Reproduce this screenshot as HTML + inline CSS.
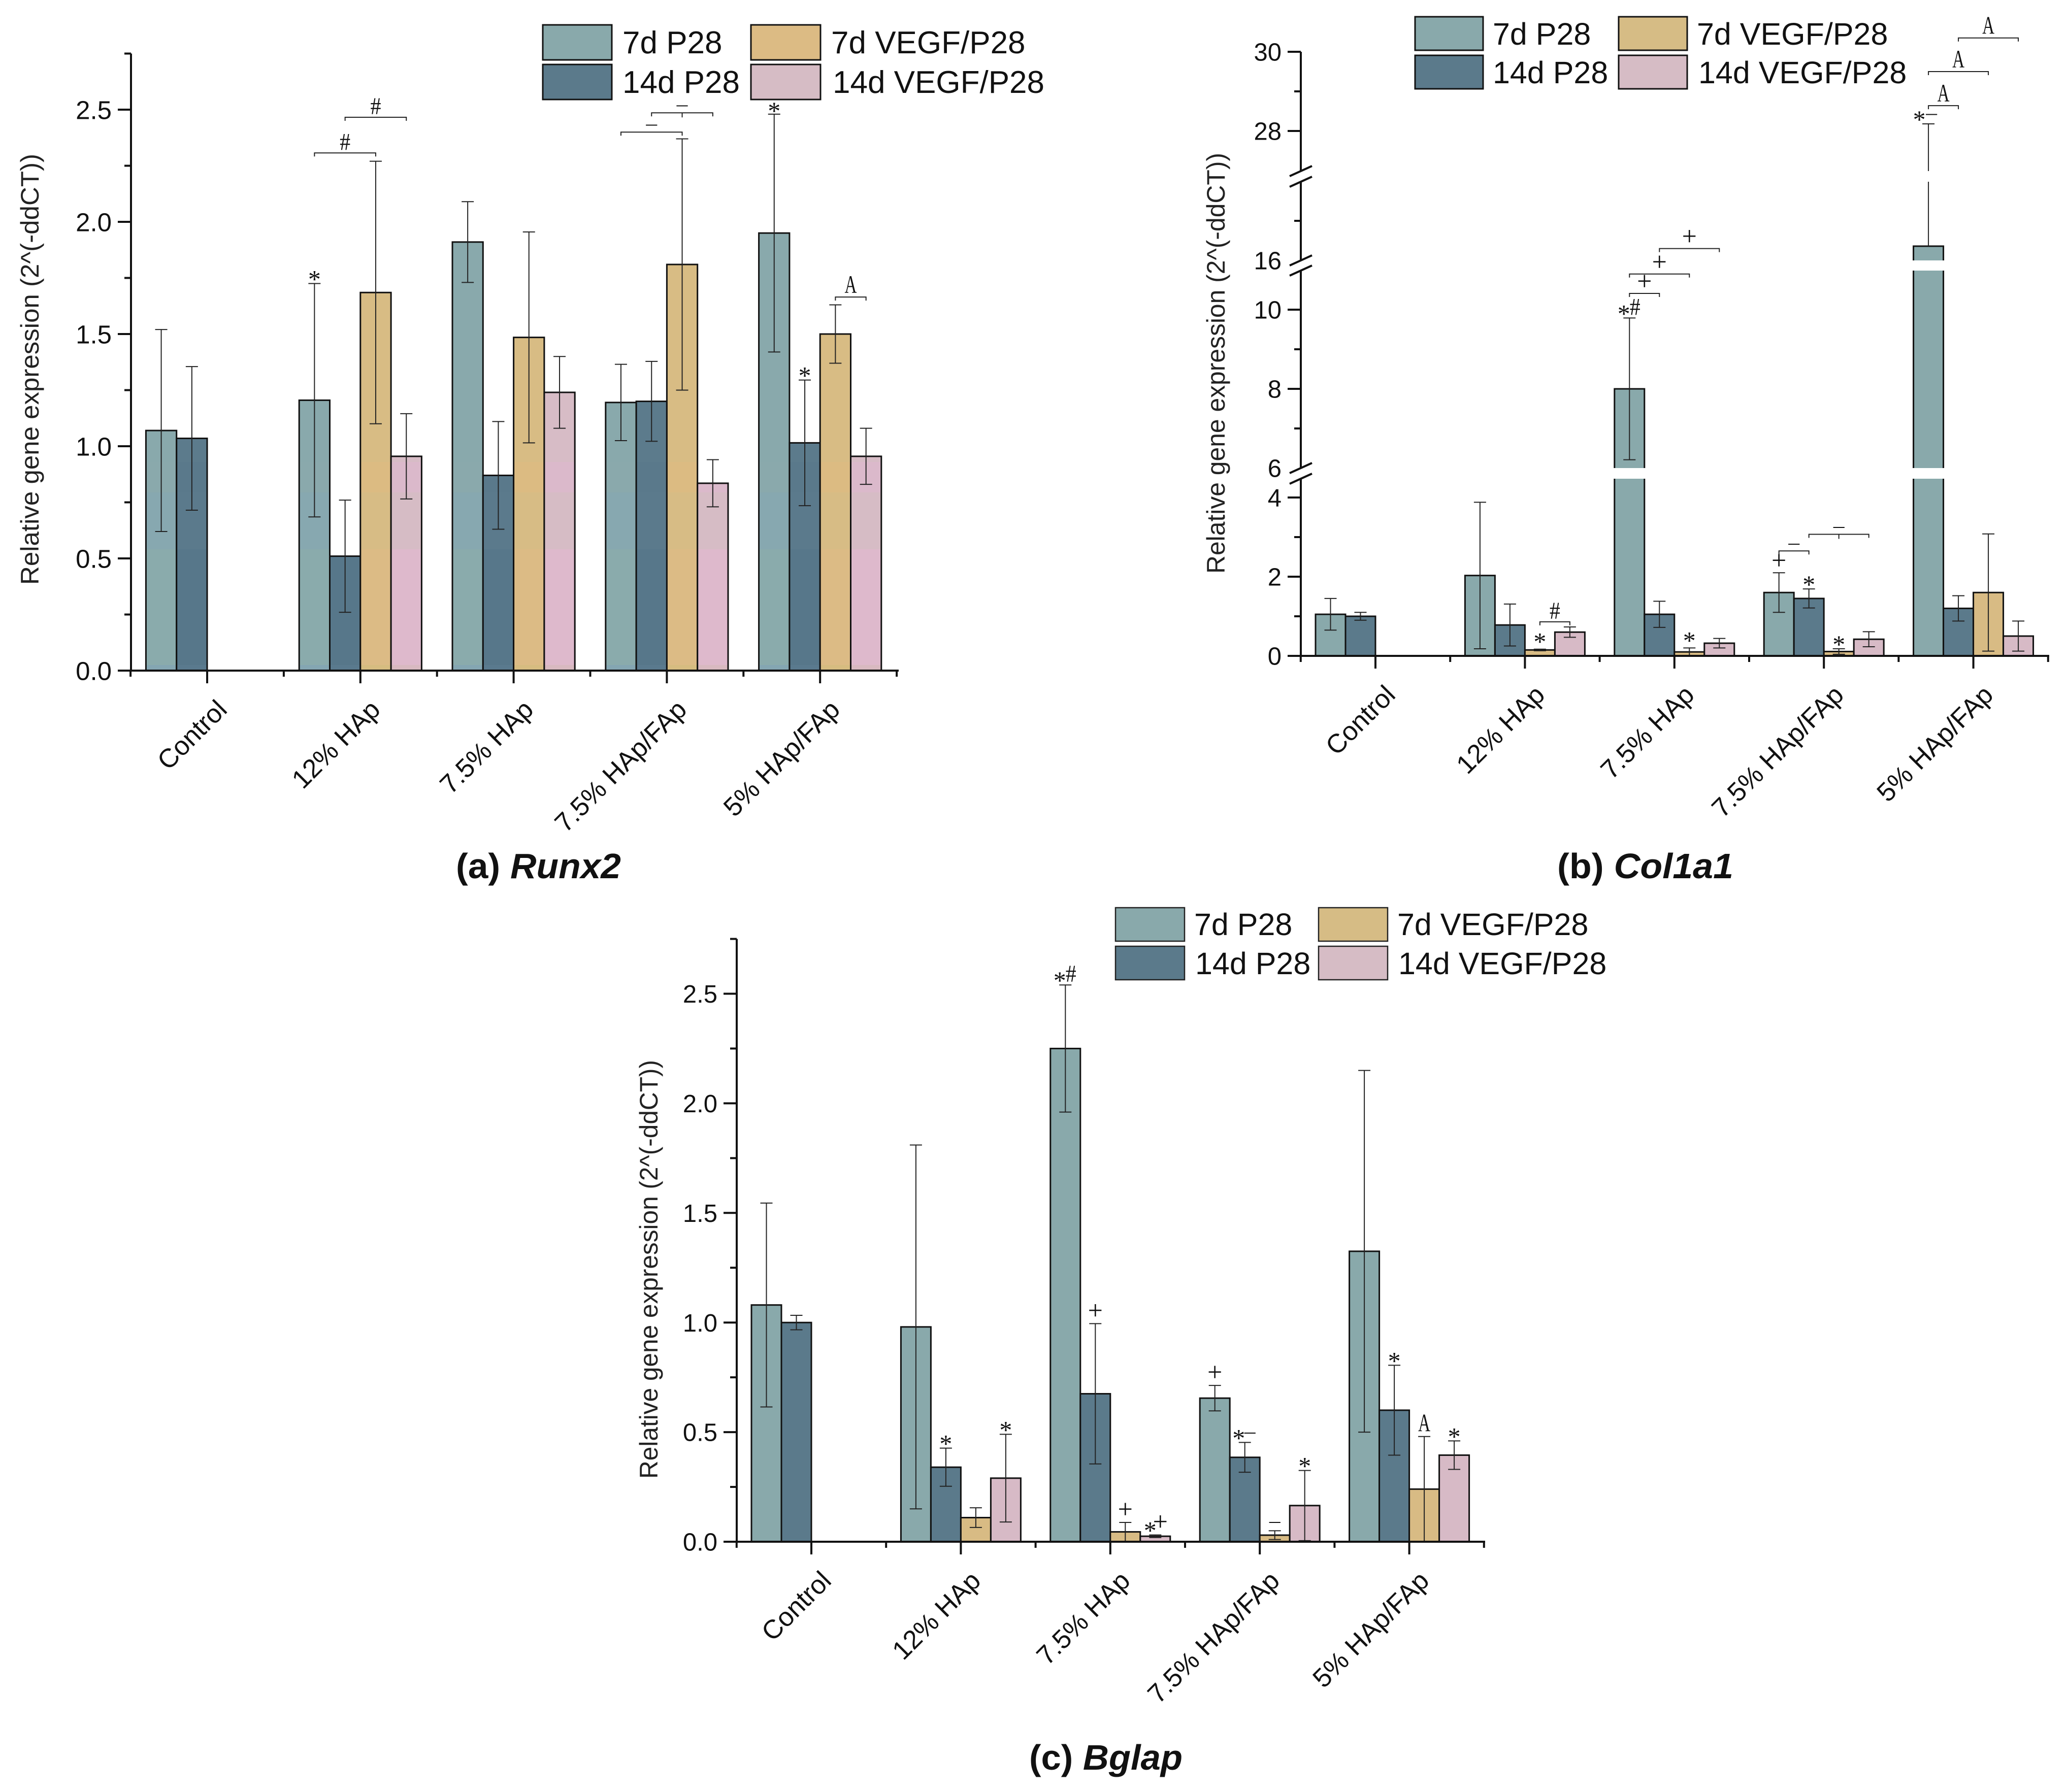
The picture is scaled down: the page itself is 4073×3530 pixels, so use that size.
<!DOCTYPE html>
<html>
<head>
<meta charset="utf-8">
<title>Relative gene expression charts</title>
<style>
html,body{margin:0;padding:0;background:#fff;}
svg{display:block;}
text{font-family:"Liberation Sans",sans-serif;fill:#111;}
.legend-text{font-size:61px;}
.legend-text-a{font-size:62px;}
.y-title{font-size:50px;fill:#222;}
.caption{font-size:70px;font-weight:bold;fill:#111;}
.caption tspan{font-style:italic;}
</style>
</head>
<body>
<svg id="figure" xmlns="http://www.w3.org/2000/svg" width="4073" height="3530" viewBox="0 0 4073 3530">
<rect x="0" y="0" width="4073" height="3530" fill="#fff"/>

<g id="chart-a"></g>
<g id="chart-b"></g>
<g id="chart-c"></g>

<g>
  <rect x="1069" y="49" width="136" height="69" fill="#89a9ab" stroke="#111" stroke-width="3"/>
  <text class="legend-text-a" x="1226" y="105">7d P28</text>
  <rect x="1069" y="127" width="136" height="69" fill="#5b7a8b" stroke="#111" stroke-width="3"/>
  <text class="legend-text-a" x="1226" y="183">14d P28</text>
  <rect x="1479" y="49" width="137" height="69" fill="#dcbb84" stroke="#111" stroke-width="3"/>
  <text class="legend-text-a" x="1637" y="105">7d VEGF/P28</text>
  <rect x="1479" y="127" width="137" height="69" fill="#d6bcc5" stroke="#111" stroke-width="3"/>
  <text class="legend-text-a" x="1640" y="183">14d VEGF/P28</text>
</g>
<g>
  <rect x="2787" y="33" width="134" height="66" fill="#89a9ab" stroke="#111" stroke-width="3"/>
  <text class="legend-text" x="2940" y="88">7d P28</text>
  <rect x="2787" y="109" width="134" height="66" fill="#5b7a8b" stroke="#111" stroke-width="3"/>
  <text class="legend-text" x="2940" y="164">14d P28</text>
  <rect x="3188" y="33" width="135" height="66" fill="#d6bc85" stroke="#111" stroke-width="3"/>
  <text class="legend-text" x="3342" y="88">7d VEGF/P28</text>
  <rect x="3188" y="109" width="135" height="66" fill="#d6bcc5" stroke="#111" stroke-width="3"/>
  <text class="legend-text" x="3345" y="164">14d VEGF/P28</text>
</g>
<g>
  <rect x="2197" y="1788" width="136" height="66" fill="#89a9ab" stroke="#222" stroke-width="2.5"/>
  <text class="legend-text" x="2352" y="1842">7d P28</text>
  <rect x="2197" y="1864" width="136" height="66" fill="#5b7a8b" stroke="#222" stroke-width="2.5"/>
  <text class="legend-text" x="2354" y="1919">14d P28</text>
  <rect x="2597" y="1788" width="136" height="66" fill="#d6bc85" stroke="#222" stroke-width="2.5"/>
  <text class="legend-text" x="2752" y="1842">7d VEGF/P28</text>
  <rect x="2597" y="1864" width="136" height="66" fill="#d6bcc5" stroke="#222" stroke-width="2.5"/>
  <text class="legend-text" x="2754" y="1919">14d VEGF/P28</text>
</g>

<text class="y-title" transform="translate(76,1152) rotate(-90)" textLength="849" lengthAdjust="spacingAndGlyphs">Relative gene expression (2^(-ddCT))</text>
<text class="y-title" transform="translate(2412,1130) rotate(-90)" textLength="829" lengthAdjust="spacingAndGlyphs">Relative gene expression (2^(-ddCT))</text>
<text class="y-title" transform="translate(1295,2913) rotate(-90)" textLength="825" lengthAdjust="spacingAndGlyphs">Relative gene expression (2^(-ddCT))</text>

<text class="caption" x="898" y="1730" textLength="325" lengthAdjust="spacingAndGlyphs">(a) <tspan>Runx2</tspan></text>
<text class="caption" x="3067" y="1730" textLength="347" lengthAdjust="spacingAndGlyphs">(b) <tspan>Col1a1</tspan></text>
<text class="caption" x="2027" y="3486" textLength="302" lengthAdjust="spacingAndGlyphs">(c) <tspan>Bglap</tspan></text>
</svg>

<script>
const categories = ['Control', '12% HAp', '7.5% HAp', '7.5% HAp/FAp', '5% HAp/FAp'];
const seriesNames = ['7d-p28', '14d-p28', '7d-vegf-p28', '14d-vegf-p28'];
const seriesColors = ['#89a9ab', '#5b7a8b', '#d8bb84', '#d7bac6'];

const runx2D7 = [1.07, 1.205, 1.91, 1.195, 1.95];
const runx2D14 = [1.035, 0.51, 0.87, 1.2, 1.015];
const runx2V7 = [null, 1.685, 1.485, 1.81, 1.5];
const runx2V14 = [null, 0.955, 1.24, 0.835, 0.955];
const runx2D7Err = [0.45, 0.52, 0.18, 0.17, 0.53];
const runx2D14Err = [0.32, 0.25, 0.24, 0.178, 0.28];
const runx2V7Err = [null, 0.585, 0.47, 0.56, 0.13];
const runx2V14Err = [null, 0.19, 0.16, 0.105, 0.125];

const col1a1D7 = [1.05, 2.03, 8, 1.6, 16.36];
const col1a1D14 = [1, 0.78, 1.05, 1.45, 1.2];
const col1a1V7 = [null, 0.15, 0.1, 0.11, 1.6];
const col1a1V14 = [null, 0.6, 0.32, 0.42, 0.5];
const col1a1D7Err = [0.4, 1.85, 1.79, 0.5, 11.82];
const col1a1D14Err = [0.1, 0.53, 0.33, 0.24, 0.32];
const col1a1V7Err = [null, 0.02, 0.1, 0.07, 1.48];
const col1a1V14Err = [null, 0.13, 0.12, 0.19, 0.38];

const bglapD7 = [1.08, 0.98, 2.25, 0.655, 1.325];
const bglapD14 = [1, 0.34, 0.675, 0.385, 0.6];
const bglapV7 = [null, 0.11, 0.045, 0.03, 0.24];
const bglapV14 = [null, 0.29, 0.025, 0.165, 0.395];
const bglapD7Err = [0.465, 0.83, 0.29, 0.058, 0.825];
const bglapD14Err = [0.033, 0.087, 0.32, 0.068, 0.205];
const bglapV7Err = [null, 0.045, 0.043, 0.02, 0.24];
const bglapV14Err = [null, 0.2, 0.006, 0.16, 0.065];

const linearMajor = [0, 0.5, 1, 1.5, 2, 2.5];
const linearMajorLabels = ['0.0', '0.5', '1.0', '1.5', '2.0', '2.5'];
const linearMinor = [0.25, 0.75, 1.25, 1.75, 2.25, 2.75];
const col1a1Major = [0, 2, 4, 8, 10, 28, 30];
const col1a1MajorLabels = ['0', '2', '4', '8', '10', '28', '30'];
const col1a1BreakLabels = [6, 16];
const col1a1Minor = [1, 3, 7, 9, 17, 29];

/* Significance marks: group, bar, character, horizontal nudge, extra lift */
const runx2Marks = [[1, 0, '*', 0, 0], [4, 0, '*', 0, -2], [4, 1, '*', 0, 0]];
const runx2Brackets = [
  [1, 0, 2, 2.307, '#', false],
  [1, 1, 3, 2.466, '#', false],
  [3, 0, 2, 2.40, '—', false],
  [3, 1, 3, 2.486, '—', true],
  [4, 2, 3, 1.665, 'A', false]
];
const col1a1Marks = [
  [1, 2, '*', 0, 6], [2, 0, '*', -11, 0], [2, 0, '#', 11, 0], [2, 2, '*', 0, 6],
  [3, 0, '+', 0, -2], [3, 1, '*', 0, 0], [3, 2, '*', 0, 0],
  [4, 0, '*', -18, 0], [4, 0, '—', 6, 4]
];
const col1a1Brackets = [
  [1, 2, 3, 0.86, '#', false],
  [2, 0, 1, 10.41, '+', false],
  [2, 0, 2, 10.9, '+', false],
  [2, 1, 3, 16.3, '+', false],
  [3, 0, 1, 2.65, '—', false],
  [3, 1, 3, 3.07, '—', true],
  [4, 0, 1, 28.64, 'A', false],
  [4, 0, 2, 29.5, 'A', false],
  [4, 1, 3, 30.35, 'A', false]
];
const bglapMarks = [
  [1, 1, '*', 0, 0], [1, 3, '*', 0, 0],
  [2, 0, '*', -11, 0], [2, 0, '#', 11, 0], [2, 1, '+', 0, 0], [2, 2, '+', 0, 0], [2, 3, '*', -10, 0], [2, 3, '+', 10, 0],
  [3, 0, '+', 0, 0], [3, 1, '*', -12, 0], [3, 1, '—', 10, 4], [3, 2, '—', 0, 2], [3, 3, '*', 0, 0],
  [4, 1, '*', 0, 0], [4, 2, 'A', 0, 0], [4, 3, '*', 0, 0]
];

const SVG_NS = 'http://www.w3.org/2000/svg';
function el(parent, tag, attrs, txt) {
  const e = document.createElementNS(SVG_NS, tag);
  for (const k in attrs) e.setAttribute(k, attrs[k]);
  if (txt !== undefined) e.textContent = txt;
  parent.appendChild(e);
  return e;
}

/* Chart (a) has scanned colour banding: hard-stop vertical gradients per series */
function addBandGradients() {
  const cuts = [0, 910, 970, 1082, 1310, 1330];
  const styles = [
    ['#89a9ac', '#8aa9ac', '#87a8b0', '#8aabac', '#84a6b2'],
    ['#5c7b8c', '#5a798b', '#5b7a8c', '#57778a', '#5a7a8e'],
    ['#d8bc84', '#dcbb82', '#d7bc85', '#dcbb85', '#d6bc80'],
    ['#d7bcc6', '#dbb9cb', '#d6bcc5', '#deb9cc', '#d8b9c0']
  ];
  const defs = el(document.getElementById('figure'), 'defs', {});
  styles.forEach(function (cols, s) {
    const grad = el(defs, 'linearGradient', { id: 'band-' + s, gradientUnits: 'userSpaceOnUse', x1: 0, x2: 0, y1: cuts[0], y2: cuts[5] });
    cols.forEach(function (col, i) {
      el(grad, 'stop', { offset: cuts[i] / cuts[5], 'stop-color': col });
      el(grad, 'stop', { offset: cuts[i + 1] / cuts[5], 'stop-color': col });
    });
  });
}

function linearScale(zeroY, pxPerUnit) {
  return function (v) { return zeroY - v * pxPerUnit; };
}
function brokenScale(sections, pxPerUnit) {
  return function (v) {
    let s = sections[0];
    for (const c of sections) if (v >= c[0]) s = c;
    return s[1] - (v - s[0]) * pxPerUnit;
  };
}
function sectionOf(sections, v) {
  let idx = 0;
  sections.forEach(function (c, i) { if (v >= c[0]) idx = i; });
  return idx;
}
function glyph(g, x, centerY, ch) {
  const baseline = { '*': 24, '#': 16, '+': 13, 'A': 16, '—': 9 }[ch];
  const size = { '*': 50, '#': 48, '+': 52, 'A': 50, '—': 40 }[ch];
  const attrs = { x: x, y: centerY + baseline, 'text-anchor': 'middle', 'font-size': size, style: 'font-family:"Liberation Serif",serif' };
  if (ch === 'A') { attrs.textLength = 24; attrs.lengthAdjust = 'spacingAndGlyphs'; attrs.x = x - 12; attrs['text-anchor'] = 'start'; }
  if (ch === '—') { attrs.textLength = 22; attrs.lengthAdjust = 'spacingAndGlyphs'; attrs.x = x - 11; attrs['text-anchor'] = 'start'; }
  if (ch === '#') { attrs.textLength = 21; attrs.lengthAdjust = 'spacingAndGlyphs'; attrs.x = x - 10.5; attrs['text-anchor'] = 'start'; }
  const t = el(g, 'text', attrs, ch);
  
  
}

function drawChart(c) {
  const root = document.getElementById(c.id);
  const xc = function (i) { return c.x0 + i * c.groupStep; };
  const barCenter = function (g, b) { return xc(g) + (b - 1.5) * c.barW; };
  const zero = c.y(0);

  c.means.forEach(function (vals, s) {
    vals.forEach(function (v, g) {
      if (v === null) return;
      const r = el(root, 'rect', {
        x: barCenter(g, s) - c.barW / 2, y: c.y(v), width: c.barW, height: zero - c.y(v),
        fill: c.banded ? 'url(#band-' + s + ')' : seriesColors[s], stroke: '#111', 'stroke-width': 3
      });
      
      
    });
  });

  c.means.forEach(function (vals, s) {
    vals.forEach(function (v, g) {
      if (v === null) return;
      const e = c.errs[s][g];
      const cx = barCenter(g, s);
      const hi = v + e, lo = v - e;
      const eg = el(root, 'g', { stroke: '#222', 'stroke-width': 2, fill: 'none' });
      
      
      const showLower = !c.sections || sectionOf(c.sections, lo) === sectionOf(c.sections, v);
      el(eg, 'line', { x1: cx, x2: cx, y1: c.y(hi), y2: showLower ? c.y(Math.max(lo, 0)) : c.y(v) });
      el(eg, 'line', { x1: cx - 12, x2: cx + 12, y1: c.y(hi), y2: c.y(hi) });
      if (showLower) el(eg, 'line', { x1: cx - 12, x2: cx + 12, y1: c.y(Math.max(lo, 0)), y2: c.y(Math.max(lo, 0)) });
    });
  });

  (c.bands || []).forEach(function (b) {
    const w = el(root, 'rect', { x: c.axisX - 7, y: b[0], width: c.axisRight - c.axisX + 14, height: b[1] - b[0], fill: '#fff' });
    
    
  });

  const axis = el(root, 'g', { stroke: '#111', 'stroke-width': 4, fill: 'none' });
  
  
  const yAxisSegs = c.bands ? [[c.y(c.yTop), c.bands[0][0]], [c.bands[0][1], c.bands[1][0]], [c.bands[1][1], c.bands[2][0]], [c.bands[2][1], zero]] : [[c.y(c.yTop), zero]];
  yAxisSegs.forEach(function (s) { el(axis, 'line', { x1: c.axisX, x2: c.axisX, y1: s[0], y2: s[1] }); });
  el(axis, 'line', { x1: c.axisX - 26, x2: c.axisRight + 2, y1: zero, y2: zero });
  c.major.forEach(function (v) { el(axis, 'line', { x1: c.axisX - 26, x2: c.axisX, y1: c.y(v), y2: c.y(v) }); });
  c.minor.forEach(function (v) { el(axis, 'line', { x1: c.axisX - 13, x2: c.axisX, y1: c.y(v), y2: c.y(v) }); });
  categories.forEach(function (name, i) {
    el(axis, 'line', { x1: xc(i), x2: xc(i), y1: zero, y2: zero + 25 });
  });
  for (let i = 0; i <= categories.length; i++) {
    const mx = xc(i) - c.groupStep / 2;
    el(axis, 'line', { x1: mx, x2: mx, y1: zero, y2: zero + 12 });
  }
  (c.bands || []).forEach(function (b) {
    [b[0], b[1]].forEach(function (yy) {
      el(axis, 'line', { x1: c.axisX - 22, x2: c.axisX + 22, y1: yy + 10, y2: yy - 10 });
    });
  });

  c.major.forEach(function (v, i) {
    const t = el(root, 'text', { x: c.axisX - 38, y: c.y(v) + c.tickSize * 0.36, 'text-anchor': 'end', 'font-size': c.tickSize }, c.majorLabels[i]);
    
    
  });
  (c.breakLabels || []).forEach(function (v) {
    const t = el(root, 'text', { x: c.axisX - 38, y: c.y(v) + c.tickSize * 0.36, 'text-anchor': 'end', 'font-size': c.tickSize }, String(v));
    
    
  });
  categories.forEach(function (name, i) {
    const ax = xc(i) + 42, ay = zero + 80;
    const t = el(root, 'text', { transform: 'translate(' + ax + ',' + ay + ') rotate(-45)', 'text-anchor': 'end', 'font-size': 52 }, name);
    
    
  });

  c.marks.forEach(function (m) {
    const g = m[0], b = m[1], hi = c.means[b][g] + c.errs[b][g];
    const lift = { '*': 16, '#': 22, '+': 22, 'A': 26, '—': 14 }[m[2]] + m[4];
    glyph(root, barCenter(g, b) + m[3], c.y(hi) - lift, m[2]);
  });
  c.brackets.forEach(function (k) {
    const x0 = barCenter(k[0], k[1]), x1 = barCenter(k[0], k[2]), yy = c.y(k[3]);
    const bg = el(root, 'path', {
      d: 'M' + x0 + ' ' + (yy + 7) + 'V' + yy + 'H' + x1 + 'V' + (yy + 7) + (k[5] ? 'M' + (x0 + x1) / 2 + ' ' + yy + 'v9' : ''),
      fill: 'none', stroke: '#222', 'stroke-width': 2
    });
    
    
    const lift = { '#': 22, '+': 20, 'A': 24, '—': 13 }[k[4]];
    glyph(root, (x0 + x1) / 2, yy - lift, k[4]);
  });
}

addBandGradients();
drawChart({
  id: 'chart-a', x0: 408, groupStep: 301.8, barW: 60.3, banded: true,
  axisX: 258, axisRight: 1768, yTop: 2.75,
  y: linearScale(1321, 442),
  means: [runx2D7, runx2D14, runx2V7, runx2V14],
  errs: [runx2D7Err, runx2D14Err, runx2V7Err, runx2V14Err],
  major: linearMajor, majorLabels: linearMajorLabels, minor: linearMinor, tickSize: 51,
  marks: runx2Marks, brackets: runx2Brackets
});
const col1a1Sections = [[0, 1292], [6, 922], [16, 513], [27, 336]];
drawChart({
  id: 'chart-b', x0: 2709, groupStep: 294.4, barW: 59,
  axisX: 2562, axisRight: 4034, yTop: 30,
  y: brokenScale(col1a1Sections, 78), sections: col1a1Sections,
  bands: [[337, 358], [513, 533], [922, 943]],
  means: [col1a1D7, col1a1D14, col1a1V7, col1a1V14],
  errs: [col1a1D7Err, col1a1D14Err, col1a1V7Err, col1a1V14Err],
  major: col1a1Major, majorLabels: col1a1MajorLabels, breakLabels: col1a1BreakLabels, minor: col1a1Minor, tickSize: 49,
  marks: col1a1Marks, brackets: col1a1Brackets
});
drawChart({
  id: 'chart-c', x0: 1598, groupStep: 294.4, barW: 59,
  axisX: 1451, axisRight: 2923, yTop: 2.75,
  y: linearScale(3037, 431.8),
  means: [bglapD7, bglapD14, bglapV7, bglapV14],
  errs: [bglapD7Err, bglapD14Err, bglapV7Err, bglapV14Err],
  major: linearMajor, majorLabels: linearMajorLabels, minor: linearMinor, tickSize: 49,
  marks: bglapMarks, brackets: []
});
</script>
</body>
</html>
